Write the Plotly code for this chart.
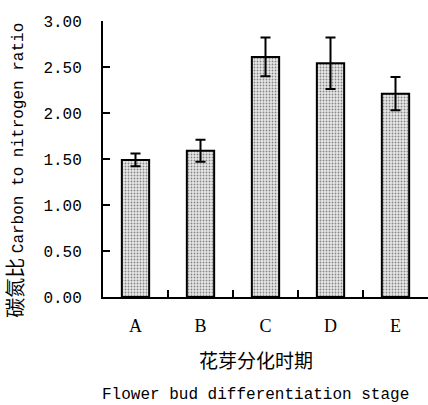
import plotly.graph_objects as go

categories = ["A", "B", "C", "D", "E"]
values = [1.49, 1.59, 2.61, 2.54, 2.21]
errors = [0.07, 0.12, 0.21, 0.28, 0.18]
y_ticks = [0, 0.5, 1.0, 1.5, 2.0, 2.5, 3.0]
y_tick_text = ["0.00", "0.50", "1.00", "1.50", "2.00", "2.50", "3.00"]

mono = "Liberation Mono"
cjk = "Noto Sans CJK SC"

fig = go.Figure()
fig.add_trace(go.Bar(
    x=categories, y=values,
    width=0.42,
    marker=dict(
        color="white",
        line=dict(color="black", width=2),
        pattern=dict(shape=".", size=3, solidity=0.3, fgcolor="#222222", bgcolor="#e8e8e8"),
    ),
    error_y=dict(type="data", array=errors, color="black", thickness=2, width=5),
))

fig.update_layout(
    width=428, height=405,
    margin=dict(l=103, r=0, t=21, b=108, autoexpand=False),
    plot_bgcolor="white", paper_bgcolor="white",
    showlegend=False,
    font=dict(family=mono, color="black", size=16),
    xaxis=dict(
        type="category", range=[-0.5, 4.5], automargin=False,
        showline=True, linecolor="black", linewidth=2,
        ticks="inside", tickson="boundaries", ticklen=7, tickwidth=2, tickcolor="black",
        tickfont=dict(family="Liberation Serif", size=18),
        ticklabelstandoff=11,
        showgrid=False, zeroline=False,
    ),
    yaxis=dict(
        range=[0, 3.0], tickvals=y_ticks, ticktext=y_tick_text, automargin=False,
        showline=True, linecolor="black", linewidth=2,
        ticks="inside", ticklen=7, tickwidth=2, tickcolor="black",
        tickfont=dict(family=mono, size=16),
        ticklabelstandoff=16,
        showgrid=False, zeroline=False,
    ),
    annotations=[
        dict(text="碳氮比 <span style='font-family:Liberation Mono;font-size:16px'>Carbon to nitrogen ratio</span>",
             xref="paper", yref="paper", x=-0.275, y=0.46, xanchor="center", yanchor="middle",
             showarrow=False, textangle=-90, font=dict(family=cjk, size=20)),
        dict(text="花芽分化时期", xref="paper", yref="paper", x=0.47, y=-0.228,
             xanchor="center", yanchor="middle", showarrow=False,
             font=dict(family=cjk, size=19)),
        dict(text="Flower bud differentiation stage", xref="paper", yref="paper",
             x=0.47, y=-0.355, xanchor="center", yanchor="middle", showarrow=False,
             font=dict(family=mono, size=16)),
    ],
)

fig.write_html("out.html", post_script="document.body.style.margin='0px';",
               config={"displayModeBar": False})
